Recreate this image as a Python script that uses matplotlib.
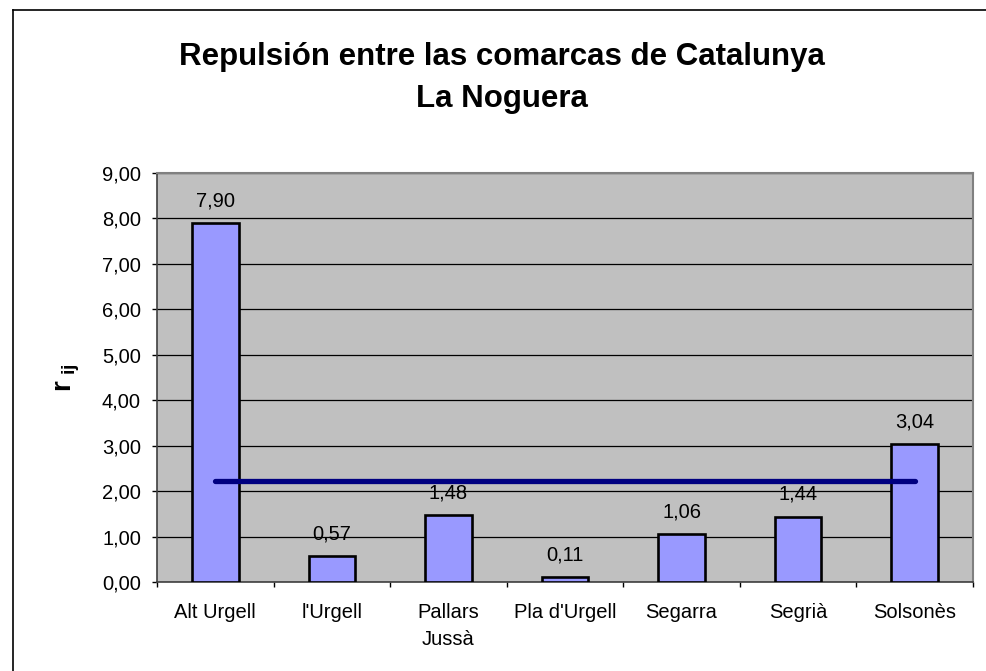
import matplotlib
matplotlib.use("Agg")
import matplotlib.pyplot as plt
from matplotlib.lines import Line2D
from matplotlib.ticker import MultipleLocator, FuncFormatter

plt.rcParams['font.family'] = ['Liberation Sans', 'DejaVu Sans']
plt.rcParams['mathtext.fontset'] = 'custom'
plt.rcParams['mathtext.rm'] = 'Liberation Sans'
plt.rcParams['mathtext.bf'] = 'Liberation Sans:bold'

categories = ["Alt Urgell", "l'Urgell", "Pallars\nJussà", "Pla d'Urgell", "Segarra", "Segrià", "Solsonès"]
values = [7.90, 0.57, 1.48, 0.11, 1.06, 1.44, 3.04]
mean_value = 2.23
title_line1 = "Repulsión entre las comarcas de Catalunya"
title_line2 = "La Noguera"

W, H = 987, 671
fig = plt.figure(figsize=(W / 100, H / 100), dpi=100)
fig.patch.set_facecolor('white')

# outer chart border (left and top visible)
fig.add_artist(Line2D([13 / W, 13 / W], [0, 1 - 10 / H], color='black', lw=1.2))
fig.add_artist(Line2D([13 / W, 1], [1 - 10 / H, 1 - 10 / H], color='black', lw=1.2))

left, right, top, bottom = 157, 973, 173, 582
ax = fig.add_axes([left / W, 1 - bottom / H, (right - left) / W, (bottom - top) / H])
ax.set_facecolor('#C0C0C0')

x = list(range(len(categories)))
ax.bar(x, values, width=0.40, color='#9999FF', edgecolor='black', linewidth=1.9, zorder=3)
ax.plot([x[0], x[-1]], [mean_value, mean_value], color='#000080', lw=3.8,
        solid_capstyle='round', zorder=4)

for xi, v in zip(x, values):
    ax.annotate(f"{v:.2f}".replace('.', ','), (xi, v), xytext=(0, 12),
                textcoords='offset points', ha='center', va='baseline',
                fontsize=14.5, zorder=5)

ax.set_xlim(-0.5, len(categories) - 0.5)
ax.set_ylim(0, 9)
ax.yaxis.set_major_locator(MultipleLocator(1))
ax.yaxis.set_major_formatter(FuncFormatter(lambda v, p: f"{v:.2f}".replace('.', ',')))
ax.grid(axis='y', color='black', lw=0.9, zorder=1)
ax.set_axisbelow(True)

ax.set_xticks([i - 0.5 for i in range(len(categories) + 1)])
ax.set_xticklabels([])
ax.set_xticks(x, minor=True)
ax.set_xticklabels(categories, minor=True, fontsize=14.5)
for lab in ax.get_xticklabels(minor=True):
    lab.set_linespacing(1.55)
ax.tick_params(axis='x', which='minor', length=0, pad=15)
ax.tick_params(axis='x', which='major', length=3.6, width=1, color='black', direction='out')
ax.tick_params(axis='y', length=3.6, width=1, labelsize=14.5, pad=8)

for s in ['top', 'right']:
    ax.spines[s].set_color('#808080')
    ax.spines[s].set_linewidth(1.5)
for s in ['left', 'bottom']:
    ax.spines[s].set_color('#404040')
    ax.spines[s].set_linewidth(1.2)

fig.text(68 / W, 1 - 378 / H, r'$\mathbf{r}_{\ \mathbf{ij}}$', rotation=90,
         ha='center', va='center', fontsize=20)

fig.text(502 / W, 1 - 65 / H, title_line1, ha='center', va='baseline',
         fontsize=22.5, fontweight='bold')
fig.text(502 / W, 1 - 107 / H, title_line2, ha='center', va='baseline',
         fontsize=22.5, fontweight='bold')

fig.savefig('out.png', dpi=100)
